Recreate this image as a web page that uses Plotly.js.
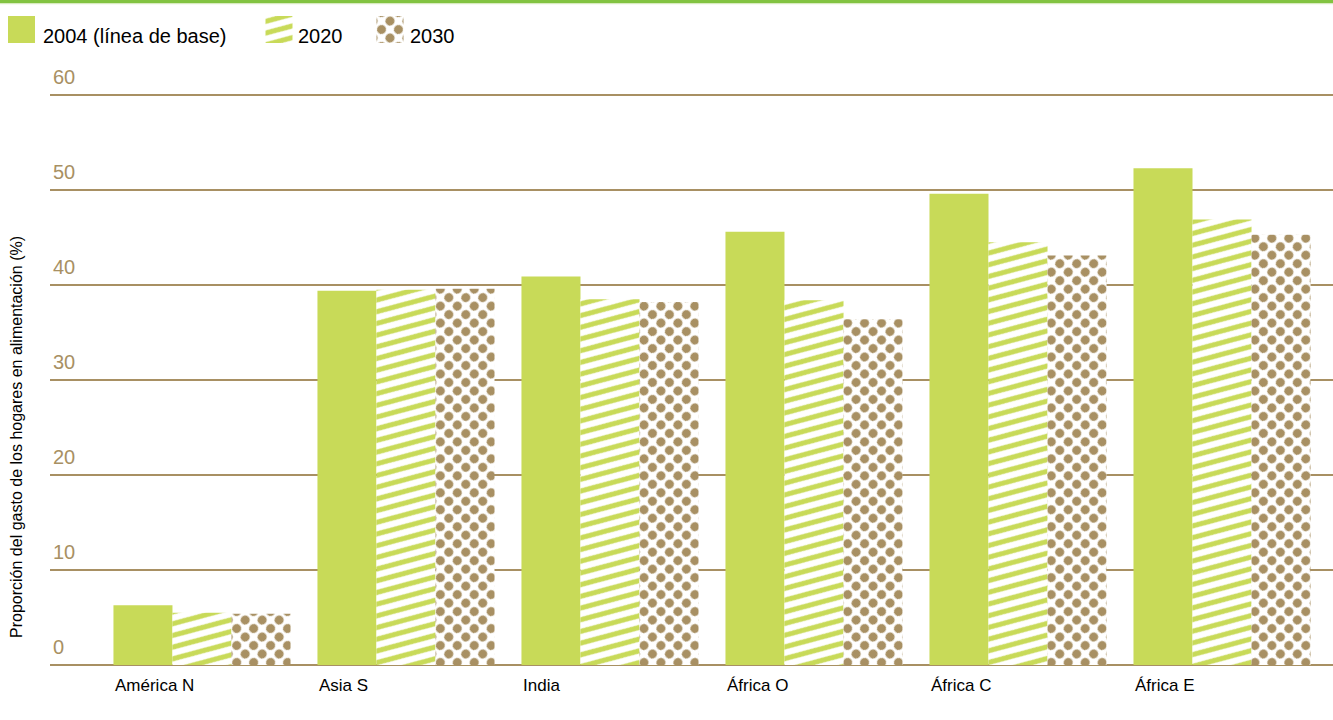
<!DOCTYPE html>
<html>
<head>
<meta charset="utf-8">
<script src="https://cdn.plot.ly/plotly-3.0.1.min.js"></script>
<style>
  html, body { margin: 0; padding: 0; background: #fff; }
  #chart { width: 1333px; height: 720px; }
</style>
</head>
<body>
<div id="chart"></div>
<script>
const categories = ["América N", "Asia S", "India", "África O", "África C", "África E"];
const seriesNames = ["2004 (línea de base)", "2020", "2030"];
const values2004 = [6.3, 39.4, 40.9, 45.6, 49.6, 52.3];
const values2020 = [5.5, 39.5, 38.5, 38.4, 44.5, 46.9];
const values2030 = [5.4, 39.6, 38.2, 36.4, 43.1, 45.3];
const yTickVals = [0, 10, 20, 30, 40, 50, 60];
const yTitle = "Proporción del gasto de los hogares en alimentación (%)";

const GREEN = "#c8da58";
const BROWN = "#a89063";
const FONT = "Liberation Sans, Arial, sans-serif";

const idx = categories.map((c, i) => i);

const traces = [
  {
    type: "bar", name: seriesNames[0], x: idx, y: values2004,
    marker: { color: GREEN, line: { width: 0 } },
    hoverinfo: "skip"
  },
  {
    type: "bar", name: seriesNames[1], x: idx, y: values2020,
    marker: {
      color: GREEN, line: { width: 0 },
      pattern: { shape: "/", fgcolor: GREEN, bgcolor: "#ffffff", size: 11.3, solidity: 0.45 }
    },
    hoverinfo: "skip"
  },
  {
    type: "bar", name: seriesNames[2], x: idx, y: values2030,
    marker: {
      color: BROWN, line: { width: 0 },
      pattern: { shape: ".", fgcolor: BROWN, bgcolor: "#ffffff", size: 12, solidity: 0.5 }
    },
    hoverinfo: "skip"
  }
];

const annotations = categories.map((c, i) => ({
  x: i - 0.434, y: 0, xref: "x", yref: "y",
  text: c, showarrow: false, xanchor: "left", yanchor: "top",
  yshift: -9, font: { family: FONT, size: 17, color: "#000" }
}));
annotations.push({
  x: -0.0257, y: 0.378, xref: "paper", yref: "paper",
  text: yTitle, textangle: -90, showarrow: false,
  xanchor: "center", yanchor: "middle",
  font: { family: FONT, size: 16, color: "#000" }
});

const layout = {
  width: 1333, height: 720,
  margin: { l: 50, r: 0, t: 60, b: 54 },
  paper_bgcolor: "#fff", plot_bgcolor: "#fff",
  font: { family: FONT, color: "#000" },
  barmode: "group", bargap: 0.132, bargroupgap: 0,
  showlegend: true,
  legend: {
    orientation: "h", x: -0.03, y: 1.09, xanchor: "left", yanchor: "top",
    font: { family: FONT, size: 20, color: "#000" },
    traceorder: "normal", itemclick: false, itemdoubleclick: false
  },
  xaxis: {
    type: "linear", range: [-0.745, 5.544],
    showticklabels: false, showgrid: false, zeroline: false,
    showline: false, ticks: "", fixedrange: true
  },
  yaxis: {
    range: [-0.1053, 63.684], tickvals: yTickVals, ticktext: yTickVals.map(String),
    showgrid: true, gridcolor: BROWN, gridwidth: 1.3,
    zeroline: true, zerolinecolor: BROWN, zerolinewidth: 2,
    showline: false, ticks: "",
    ticklabelposition: "inside top", ticklabelshift: -4,
    tickfont: { family: FONT, size: 20, color: BROWN },
    fixedrange: true
  },
  annotations: annotations,
  shapes: [
    { type: "rect", xref: "paper", yref: "paper", x0: -0.04, x1: 1.01,
      y0: 663 / 606, y1: 1.12, fillcolor: "#82c341", line: { width: 0 }, layer: "above" },
    { type: "line", xref: "paper", yref: "paper", x0: -0.04, x1: 1.01,
      y0: 662.3 / 606, y1: 662.3 / 606, line: { color: "#cfe6b0", width: 1 } }
  ]
};

function fixPatterns() {
  document.querySelectorAll("#chart pattern").forEach(pt => {
    const c = pt.querySelector("circle");
    if (c) {
      pt.setAttribute("patternTransform", "rotate(45)");
      c.setAttribute("r", "4.5");
    } else if (pt.querySelector("path")) {
      pt.setAttribute("patternTransform", "rotate(30)");
    }
  });
}

function parseTranslate(el) {
  const m = /translate\(([-\d.e]+)(?:[ ,]+([-\d.e]+))?\)/.exec(el.getAttribute("transform") || "");
  return m ? [parseFloat(m[1]), parseFloat(m[2] || "0")] : [0, 0];
}

function fixLegend() {
  const legend = document.querySelector("#chart .legend");
  if (!legend) return;
  legend.querySelectorAll("[clip-path]").forEach(e => e.removeAttribute("clip-path"));
  const bg = legend.querySelector("rect.bg");
  if (bg) bg.setAttribute("style", "fill:none;stroke:none");
  const barTraces = document.querySelectorAll("#chart .barlayer .trace");
  const swatchCenters = [21.5, 279, 390];
  const textLefts = [43, 298, 410];
  const textCenterY = 35.8;
  const swatchCenterY = 29.5;
  const items = legend.querySelectorAll("g.traces");
  items.forEach((item, i) => {
    const pt = item.querySelector(".legendpoints path");
    if (pt) {
      pt.setAttribute("d", "M13.5,13.5H-13.5V-13.5H13.5Z");
      const barPt = barTraces[i] && barTraces[i].querySelector(".point path");
      if (barPt) {
        const f = barPt.style.fill;
        if (f) pt.style.fill = f;
      }
    }
    const [tx, ty] = parseTranslate(item);
    const txt = item.querySelector("text.legendtext");
    const tr = txt.getBoundingClientRect();
    const dy = textCenterY - (tr.top + tr.height / 2);
    item.setAttribute("transform", `translate(${tx},${ty + dy})`);
    const tr2 = txt.getBoundingClientRect();
    const curX = parseFloat(txt.getAttribute("x") || "0");
    txt.setAttribute("x", curX + (textLefts[i] - tr2.left));
    if (pt) {
      const [px, py] = parseTranslate(pt);
      const pr = pt.getBoundingClientRect();
      const sdx = swatchCenters[i] - (pr.left + pr.width / 2);
      const sdy = swatchCenterY - (pr.top + pr.height / 2);
      pt.setAttribute("transform", `translate(${px + sdx},${py + sdy})`);
    }
  });
}

Plotly.newPlot("chart", traces, layout, { displayModeBar: false, staticPlot: true }).then(() => {
  fixPatterns();
  fixLegend();
});
</script>
</body>
</html>
